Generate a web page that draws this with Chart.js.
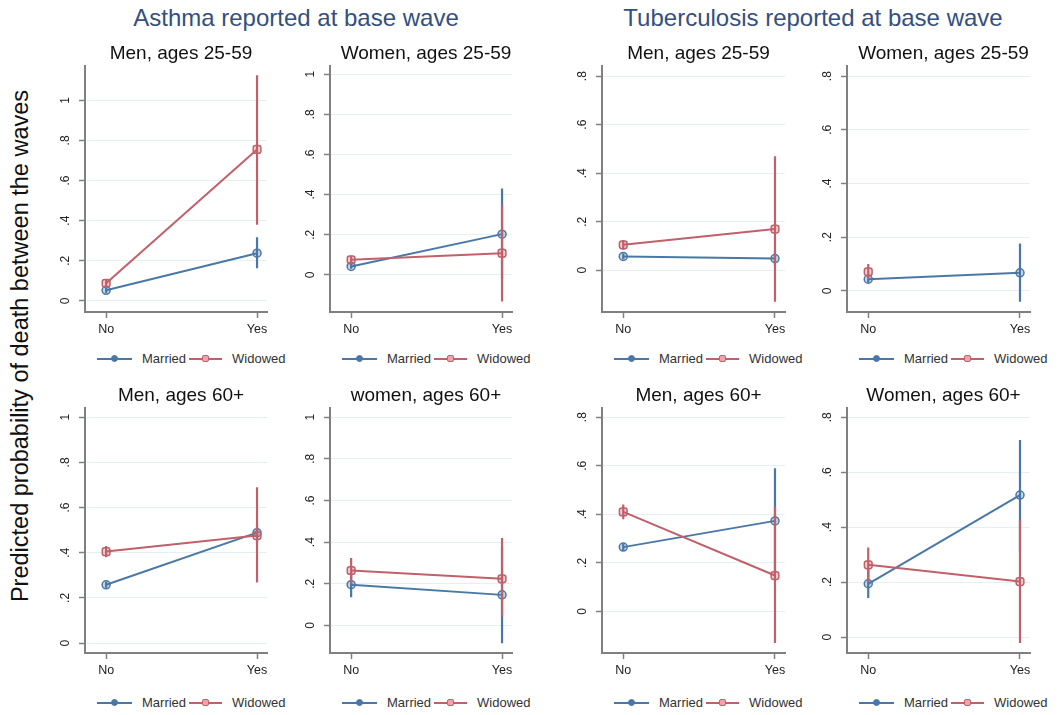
<!DOCTYPE html>
<html>
<head>
<meta charset="utf-8">
<script src="https://cdn.jsdelivr.net/npm/chart.js@4.4.1/dist/chart.umd.min.js"></script>
<style>
  body { margin: 0; background: #fff; font-family: "Liberation Sans", Arial, sans-serif; }
  #wrap { position: relative; width: 1062px; height: 715px; overflow: hidden; }
  .abs { position: absolute; }
  .group-title { color: #34507e; font-size: 24px; white-space: nowrap; transform: translate(-50%, -50%); }
  .panel-title { color: #111; font-size: 19px; white-space: nowrap; transform: translate(-50%, -50%); }
  .ylab { color: #111; font-size: 23.5px; white-space: nowrap; transform: translate(-50%, -50%) rotate(-90deg); }
  .legend { font-size: 13px; color: #333; white-space: nowrap; display: flex; align-items: center; }
  .sw { display: inline-block; position: relative; height: 2px; }
  .sw i { position: absolute; left: 50%; top: 50%; width: 5px; height: 5px; margin: -3.5px 0 0 -3.5px; border: 1.5px solid; border-radius: 50%; }
  .sw.w i { border-radius: 2px; }
</style>
</head>
<body>
<div id="wrap"></div>
<script>
// categories and panels
const categories = ['No', 'Yes'];
const groupTitles = ['Asthma reported at base wave', 'Tuberculosis reported at base wave'];
const panelTitles = ['Men, ages 25-59', 'Women, ages 25-59', 'Men, ages 25-59', 'Women, ages 25-59',
                     'Men, ages 60+', 'women, ages 60+', 'Men, ages 60+', 'Women, ages 60+'];
const seriesNames = ['Married', 'Widowed'];
const yTitle = 'Predicted probability of death between the waves';

// predicted probabilities [No, Yes] per panel
const married   = [[0.053, 0.238], [0.042, 0.203], [0.057, 0.048], [0.043, 0.067],
                   [0.258, 0.489], [0.196, 0.147], [0.265, 0.373], [0.194, 0.517]];
const marriedLo = [[0.040, 0.163], [0.030, -0.020], [0.045, 0.020], [0.030, -0.041],
                   [0.245, 0.450], [0.136, -0.085], [0.250, 0.160], [0.142, 0.310]];
const marriedHi = [[0.066, 0.317], [0.055, 0.430], [0.069, 0.080], [0.056, 0.176],
                   [0.271, 0.530], [0.256, 0.380], [0.280, 0.590], [0.250, 0.717]];
const widowed   = [[0.088, 0.755], [0.075, 0.108], [0.105, 0.170], [0.071, null],
                   [0.405, 0.476], [0.264, 0.224], [0.410, 0.148], [0.263, 0.202]];
const widowedLo = [[0.070, 0.380], [0.055, -0.133], [0.085, -0.130], [0.045, null],
                   [0.380, 0.268], [0.200, 0.043], [0.380, -0.130], [0.200, -0.022]];
const widowedHi = [[0.105, 1.125], [0.095, 0.350], [0.125, 0.470], [0.100, null],
                   [0.430, 0.690], [0.324, 0.420], [0.440, 0.430], [0.326, 0.427]];

// axis ranges and ticks
const yMin = [-0.055, -0.185, -0.172, -0.079, -0.044, -0.132, -0.171, -0.058];
const yMax = [1.17, 1.04, 0.841, 0.837, 1.04, 1.043, 0.837, 0.833];
const yTicksLong = [0, 0.2, 0.4, 0.6, 0.8, 1];
const yTicksShort = [0, 0.2, 0.4, 0.6, 0.8];
const yTickLabels = ['0', '.2', '.4', '.6', '.8', '1'];

// layout
const colAxisX = [85, 330, 602, 847];
const colRight = [267, 512, 785, 1030];
const rowTop = [66, 408];
const rowBottom = [312, 653];
const titleY = [53, 395];
const legendY = [359, 703];
const blue = '#4a78a6';
const red = '#c0606a';

const wrap = document.getElementById('wrap');

function addDiv(cls, text, x, y) {
    const d = document.createElement('div');
    d.className = 'abs ' + cls;
    d.textContent = text;
    d.style.left = x + 'px';
    d.style.top = y + 'px';
    wrap.appendChild(d);
    return d;
}

addDiv('group-title', groupTitles[0], 296, 18);
addDiv('group-title', groupTitles[1], 813, 18);
addDiv('ylab', yTitle, 20, 346);

// rotated y tick labels, Stata style
const rotatedTicks = {
    id: 'rotatedTicks',
    afterDraw(chart) {
        const s = chart.scales.y;
        const ctx = chart.ctx;
        ctx.save();
        ctx.fillStyle = '#222';
        ctx.font = '12px "Liberation Sans", Arial, sans-serif';
        ctx.textAlign = 'center';
        ctx.textBaseline = 'middle';
        s.ticks.forEach(t => {
            const y = s.getPixelForValue(t.value);
            ctx.save();
            ctx.translate(chart.chartArea.left - 19, y);
            ctx.rotate(-Math.PI / 2);
            ctx.fillText(yTickLabels[Math.round(t.value * 5)], 0, 0);
            ctx.restore();
        });
        ctx.restore();
    }
};

function ciSets(lo, hi, color, order) {
    const sets = [];
    for (let i = 0; i < categories.length; i++) {
        if (lo[i] === null) continue;
        sets.push({
            data: [{x: i, y: lo[i]}, {x: i, y: hi[i]}],
            borderColor: color, borderWidth: 2.2, pointRadius: 0, order: order
        });
    }
    return sets;
}

function pointsOf(vals) {
    return vals.map((v, i) => ({x: i, y: v})).filter(p => p.y !== null);
}

for (let p = 0; p < 8; p++) {
    const c = p % 4, r = Math.floor(p / 4);
    const axisX = colAxisX[c], right = colRight[c];
    const top = rowTop[r], bottom = rowBottom[r];
    const padL = 40, padT = 10, padR = 10, padB = 32;

    const box = document.createElement('div');
    box.className = 'abs';
    box.style.left = (axisX - padL) + 'px';
    box.style.top = (top - padT) + 'px';
    box.style.width = (padL + right - axisX + padR) + 'px';
    box.style.height = (padT + bottom - top + padB) + 'px';
    const cv = document.createElement('canvas');
    box.appendChild(cv);
    wrap.appendChild(box);

    addDiv('panel-title', panelTitles[p], (axisX + 10 + right) / 2, titleY[r]);

    const leg = addDiv('legend', '', axisX + 12, legendY[r] - 8);
    leg.innerHTML =
        '<span class="sw" style="width:35px;background:' + blue + '"><i style="border-color:' + blue + ';background:' + blue + '"></i></span>' +
        '<span style="margin-left:10px;margin-right:3px">' + seriesNames[0] + '</span>' +
        '<span class="sw w" style="width:33px;background:' + red + '"><i style="border-color:' + red + ';background:#e2a9ae"></i></span>' +
        '<span style="margin-left:10px">' + seriesNames[1] + '</span>';

    const yTicks = yMax[p] > 0.95 ? yTicksLong : yTicksShort;

    const datasets = [
        {
            label: seriesNames[0], data: pointsOf(married[p]),
            borderColor: blue, borderWidth: 2, order: 2,
            pointStyle: 'circle', pointRadius: 4, pointBorderWidth: 1.5,
            pointBackgroundColor: 'rgba(74,120,166,0.3)', pointBorderColor: blue
        },
        ...ciSets(marriedLo[p], marriedHi[p], blue, 2),
        {
            label: seriesNames[1], data: pointsOf(widowed[p]),
            borderColor: red, borderWidth: 2, order: 1,
            pointStyle: 'rectRounded', pointRadius: 4.5, pointBorderWidth: 1.5,
            pointBackgroundColor: 'rgba(192,96,106,0.3)', pointBorderColor: red
        },
        ...ciSets(widowedLo[p], widowedHi[p], red, 1)
    ];

    new Chart(cv, {
        type: 'line',
        data: { datasets: datasets },
        options: {
            responsive: true,
            maintainAspectRatio: false,
            animation: false,
            layout: { padding: { left: 0, top: padT, right: padR, bottom: 0 } },
            plugins: { legend: { display: false }, tooltip: { enabled: false } },
            scales: {
                x: {
                    type: 'linear', min: -0.14, max: 1.066,
                    afterFit: s => { s.height = padB; },
                    afterBuildTicks: s => { s.ticks = categories.map((_, i) => ({value: i})); },
                    ticks: {
                        callback: v => categories[v],
                        color: '#222', padding: 4,
                        font: { family: '"Liberation Sans", Arial, sans-serif', size: 12.5 },
                        maxRotation: 0
                    },
                    grid: { drawOnChartArea: false, tickLength: 6, tickColor: '#808080', tickWidth: 1.5 },
                    border: { color: '#808080', width: 2 }
                },
                y: {
                    type: 'linear', min: yMin[p], max: yMax[p],
                    afterFit: s => { s.width = padL; },
                    afterBuildTicks: s => { s.ticks = yTicks.map(v => ({value: v})); },
                    ticks: { color: 'rgba(0,0,0,0)', font: { size: 12 } },
                    grid: { color: '#e6eff1', lineWidth: 1, tickLength: 6, tickColor: '#808080', tickWidth: 1.5 },
                    border: { color: '#808080', width: 2 }
                }
            }
        },
        plugins: [rotatedTicks]
    });
}
</script>
</body>
</html>
